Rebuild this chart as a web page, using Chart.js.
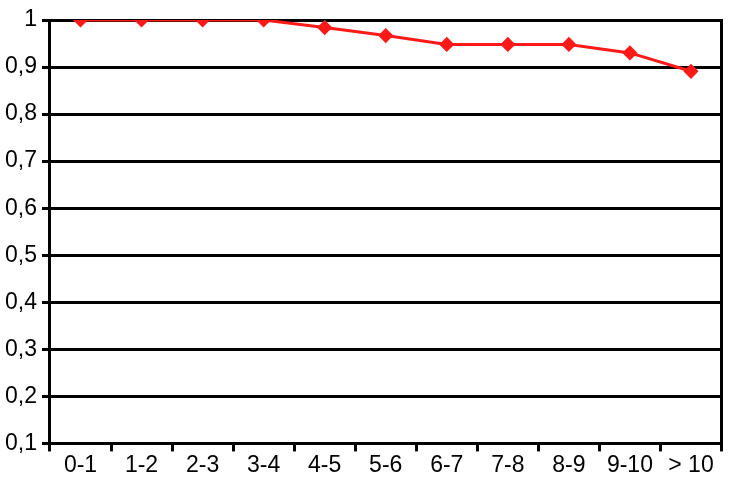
<!DOCTYPE html>
<html>
<head>
<meta charset="utf-8">
<script src="https://cdn.jsdelivr.net/npm/chart.js@4"></script>
<style>
    html, body { margin: 0; padding: 0; background: #fff; }
    #wrap { width: 730px; height: 479px; }
</style>
</head>
<body>
<div id="wrap"><canvas id="chart"></canvas></div>
<script>
const categories = ["0-1", "1-2", "2-3", "3-4", "4-5", "5-6", "6-7", "7-8", "8-9", "9-10", "> 10"];
const values = [1, 1, 1, 1, 0.984, 0.967, 0.948, 0.948, 0.948, 0.93, 0.891];
const yMin = 0.1;
const yMax = 1;
const yStep = 0.1;

const font = { family: "'Liberation Sans', Arial, sans-serif", size: 23 };

new Chart(document.getElementById("chart"), {
    type: "line",
    data: {
        labels: categories,
        datasets: [{
            data: values,
            borderColor: "rgb(255,25,25)",
            backgroundColor: "rgb(255,25,25)",
            borderWidth: 3,
            pointStyle: "rectRot",
            pointRadius: 5.5,
            tension: 0
        }]
    },
    options: {
        responsive: true,
        maintainAspectRatio: false,
        animation: false,
        layout: { padding: { top: 20, right: 7, left: 0, bottom: 0 } },
        plugins: { legend: { display: false }, tooltip: { enabled: false } },
        scales: {
            x: {
                offset: true,
                grid: {
                    offset: true,
                    drawOnChartArea: false,
                    color: "#000",
                    lineWidth: 3,
                    tickLength: 8
                },
                border: { color: "#000", width: 3 },
                ticks: { color: "#000", font: font, padding: 0, maxRotation: 0, autoSkip: false }
            },
            y: {
                min: yMin,
                max: yMax,
                grid: { color: "#000", lineWidth: 3, tickLength: 8 },
                border: { color: "#000", width: 3 },
                ticks: {
                    stepSize: yStep,
                    color: "#000",
                    font: font,
                    padding: 5,
                    callback: v => String(Math.round(v * 10) / 10).replace(".", ",")
                }
            },
            y2: {
                position: "right",
                min: yMin,
                max: yMax,
                grid: { display: false },
                border: { color: "#000", width: 3 },
                ticks: { display: false },
                afterFit: axis => { axis.width = 0; }
            }
        }
    }
});
</script>
</body>
</html>
